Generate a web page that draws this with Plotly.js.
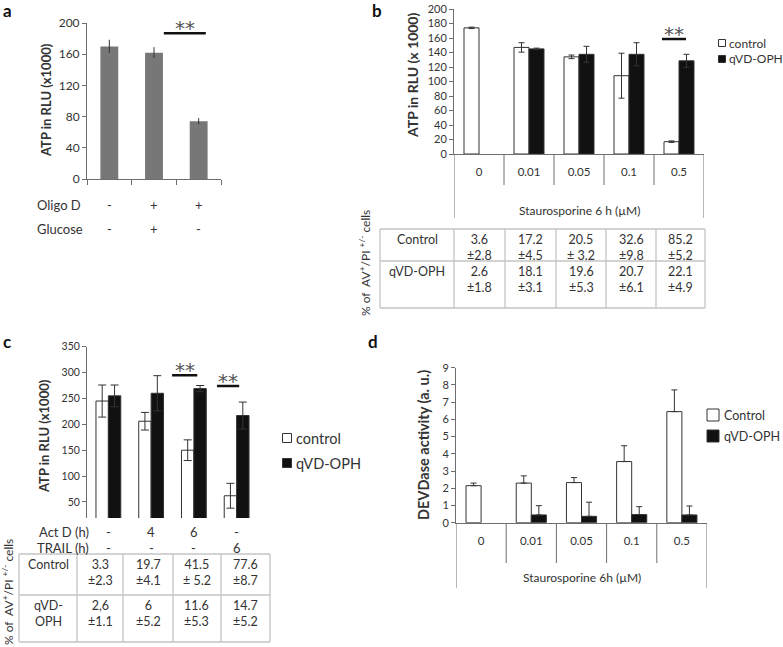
<!DOCTYPE html>
<html>
<head>
<meta charset="utf-8">
<script src="https://cdn.plot.ly/plotly-3.0.1.min.js"></script>
<style>
  body { margin: 0; background: #fff; }
  #fig { width: 783px; height: 647px; }
</style>
</head>
<body>
<div id="fig"></div>
<script>
// ---- panel a: ATP after oligomycin D +/- glucose
var aCats = ['ctrl', 'oligoGlc', 'oligo'];
var aOligo = ['-', '+', '+'];
var aGlucose = ['-', '+', '-'];
var aATP = [170, 162, 74];
var aErr = [8.5, 7, 4];

// ---- panel b: ATP after staurosporine
var bCats = ['0', '0.01', '0.05', '0.1', '0.5'];
var bControl = [174, 147, 134, 108, 17];
var bControlErr = [1, 6.5, 2.5, 31, 1];
var bQvd = [null, 145, 137.5, 137.5, 128.5];
var bQvdErr = [0, 1, 11, 16, 9];
var bPctCtrlMean = ['3.6', '17.2', '20.5', '32.6', '85.2'];
var bPctCtrlSd = ['±2.8', '±4.5', '± 3.2', '±9.8', '±5.2'];
var bPctQvdMean = ['2.6', '18.1', '19.6', '20.7', '22.1'];
var bPctQvdSd = ['±1.8', '±3.1', '±5.3', '±6.1', '±4.9'];

// ---- panel c: ATP after Act D / TRAIL
var cCats = ['none', 'actD4', 'actD6', 'trail6'];
var cActD = ['-', '4', '6', '-'];
var cTrail = ['-', '-', '-', '6'];
var cControl = [245, 206, 150, 62];
var cControlErr = [31, 17, 20, 24];
var cQvd = [255, 260, 269, 217];
var cQvdErr = [21, 34, 6, 26];
var cPctCtrlMean = ['3.3', '19.7', '41.5', '77.6'];
var cPctCtrlSd = ['±2.3', '±4.1', '± 5.2', '±8.7'];
var cPctQvdMean = ['2,6', '6', '11.6', '14.7'];
var cPctQvdSd = ['±1.1', '±5.2', '±5.3', '±5.2'];

// ---- panel d: DEVDase activity
var dCats = ['0', '0.01', '0.05', '0.1', '0.5'];
var dControl = [2.15, 2.3, 2.33, 3.55, 6.45];
var dControlErr = [0.15, 0.42, 0.29, 0.92, 1.26];
var dQvd = [null, 0.45, 0.37, 0.47, 0.45];
var dQvdErr = [0, 0.54, 0.82, 0.46, 0.52];

var W = 783, H = 647;
function fx(p) { return p / W; }
function fy(p) { return 1 - p / H; }

var FONT = 'Lato, "Noto Sans", sans-serif';
var txt = '#333333';
var axisCol = '#6e6e6e';
var gridCol = '#c4c4c4';

function bar(x, y, err, xa, ya, width, offset, fill, name, cap, upOnly) {
    var eb = { type: 'data', array: err, color: '#333', thickness: 1, width: cap };
    if (upOnly) {
        eb.symmetric = false;
        eb.arrayminus = err.map(function () { return 0; });
    }
    return {
        type: 'bar', x: x, y: y, xaxis: xa, yaxis: ya,
        width: width, offset: offset, name: name,
        marker: { color: fill, line: { color: '#333', width: fill === '#777777' ? 0 : 1 } },
        error_y: eb, showlegend: false
    };
}

var traces = [
    bar(aCats, aATP, aErr, 'x', 'y', 0.4, -0.2, '#777777', 'ATP', 0, false),
    bar(bCats, bControl, bControlErr, 'x2', 'y2', 0.3, -0.3, '#ffffff', 'control', 3, false),
    bar(bCats, bQvd, bQvdErr, 'x2', 'y2', 0.3, 0, '#111111', 'qVD-OPH', 3, false),
    bar(cCats, cControl, cControlErr, 'x3', 'y3', 0.29, -0.29, '#ffffff', 'control', 4, false),
    bar(cCats, cQvd, cQvdErr, 'x3', 'y3', 0.29, 0, '#111111', 'qVD-OPH', 4, false),
    bar(dCats, dControl, dControlErr, 'x4', 'y4', 0.3, -0.3, '#ffffff', 'Control', 3, true),
    bar(dCats, dQvd, dQvdErr, 'x4', 'y4', 0.3, 0, '#111111', 'qVD-OPH', 3, true)
];

function yax(dom, range, dtick, anchor, size) {
    return {
        domain: dom, range: range, dtick: dtick, tick0: 0, anchor: anchor,
        showline: true, linecolor: axisCol, linewidth: 1,
        ticks: 'outside', ticklen: 4, tickcolor: axisCol,
        showgrid: false, zeroline: false,
        tickfont: { size: size, color: txt }
    };
}

var annotations = [];
var shapes = [];

function note(text, x, y, opts) {
    var a = {
        text: text, x: x, y: y, xref: 'paper', yref: 'paper',
        xanchor: 'center', yanchor: 'middle',
        showarrow: false, font: { size: 12, color: txt }
    };
    for (var k in opts) a[k] = opts[k];
    annotations.push(a);
}
function line(x0, y0, x1, y1, color, width, xref, yref) {
    shapes.push({
        type: 'line', x0: x0, y0: y0, x1: x1, y1: y1,
        xref: xref || 'paper', yref: yref || 'paper',
        line: { color: color, width: width }
    });
}

// legend keys drawn by hand: the original text runs to the right edge
function legendKey(trace, cx, cy, size, textX, fontSize) {
    shapes.push({
        type: 'rect', xref: 'paper', yref: 'paper',
        x0: fx(cx - size / 2), x1: fx(cx + size / 2),
        y0: fy(cy + size / 2), y1: fy(cy - size / 2),
        fillcolor: trace.marker.color, line: { color: '#333', width: 1 }
    });
    note(trace.name, fx(textX), fy(cy), { xanchor: 'left', font: { size: fontSize, color: txt } });
}
legendKey(traces[1], 722, 43, 7, 727, 12);
legendKey(traces[2], 722, 59, 7, 727, 12);
legendKey(traces[3], 287, 438, 9, 294, 14.5);
legendKey(traces[4], 287, 463, 9, 294, 14.5);
legendKey(traces[5], 713, 415, 12, 722, 12.5);
legendKey(traces[6], 713, 436, 12, 722, 12.5);

// panel letters
[['a', 1, 11], ['b', 370, 11], ['c', 1, 341], ['d', 366, 341]].forEach(function (p) {
    note('<b>' + p[0] + '</b>', fx(p[1]), fy(p[2]),
        { xanchor: 'left', font: { size: 17, color: '#111' } });
});

// y titles
note('<b>ATP in RLU (x1000)</b>', fx(46), fy(100), { textangle: -90, font: { size: 13, color: txt } });
note('<b>ATP in RLU (x 1000)</b>', fx(413), fy(76), { textangle: -90, font: { size: 14, color: txt } });
note('<b>ATP in RLU (x1000)</b>', fx(44), fy(436), { textangle: -90, font: { size: 13, color: txt } });
note('<b>DEVDase activity (a. u.)</b>', fx(423), fy(445), { textangle: -90, font: { size: 14.5, color: txt } });

// panel a condition rows
note('Oligo D', fx(35), fy(205), { xanchor: 'left', font: { size: 13, color: txt } });
note('Glucose', fx(35), fy(229), { xanchor: 'left', font: { size: 13, color: txt } });
aCats.forEach(function (c, i) {
    note(aOligo[i], i, fy(205), { xref: 'x', font: { size: 13, color: txt } });
    note(aGlucose[i], i, fy(229), { xref: 'x', font: { size: 13, color: txt } });
});

// panel c condition rows
note('Act D (h)', fx(91), fy(532), { xanchor: 'right', font: { size: 13, color: txt } });
note('TRAIL (h)', fx(91), fy(548), { xanchor: 'right', font: { size: 13, color: txt } });
cCats.forEach(function (c, i) {
    note(cActD[i], i, fy(532), { xref: 'x3', font: { size: 13, color: txt } });
    note(cTrail[i], i, fy(548), { xref: 'x3', font: { size: 13, color: txt } });
});

// category separators under the x axis (b and d)
function separators(n, xref, yAxisPx, innerPx, outerPx) {
    for (var k = 0; k <= n; k++) {
        var outer = (k === 0 || k === n);
        line(k - 0.5, fy(yAxisPx), k - 0.5, fy(outer ? outerPx : innerPx), axisCol, 1, xref, 'paper');
    }
}
separators(bCats.length, 'x2', 154, 185, 218);
separators(dCats.length, 'x4', 523, 563, 588);
note('Staurosporine 6 h (µM)', 2, fy(210), { xref: 'x2', font: { size: 12, color: txt } });
note('Staurosporine 6h (µM)', 2, fy(577), { xref: 'x4', font: { size: 12, color: txt } });

// tables of % AV+/PI+/- cells
function table(cols, rows, labels, means, sds) {
    rows.forEach(function (r) { line(fx(cols[0]), fy(r), fx(cols[cols.length - 1]), fy(r), gridCol, 1.3); });
    cols.forEach(function (c) { line(fx(c), fy(rows[0]), fx(c), fy(rows[rows.length - 1]), gridCol, 1.3); });
    labels.forEach(function (lab, r) {
        var top = rows[r] + 1;
        note(lab, fx((cols[0] + cols[1]) / 2), fy(top), { yanchor: 'top', font: { size: 12.5, color: txt } });
        means[r].forEach(function (m, i) {
            note(m + '<br>' + sds[r][i], fx((cols[i + 1] + cols[i + 2]) / 2), fy(top),
                { yanchor: 'top', font: { size: 12.5, color: txt } });
        });
    });
}
table([380, 454, 505, 556, 606, 656, 705], [229, 261, 308], ['Control', 'qVD-OPH'],
    [bPctCtrlMean, bPctQvdMean], [bPctCtrlSd, bPctQvdSd]);
table([19, 77, 123, 173, 221, 270], [554, 595, 642], ['Control', 'qVD-<br>OPH'],
    [cPctCtrlMean, cPctQvdMean], [cPctCtrlSd, cPctQvdSd]);

var pctLabel = '% of  AV<sup>+</sup>/PI <sup>+/-</sup> cells';
note(pctLabel, fx(365), fy(263), { textangle: -90, font: { size: 12, color: txt } });
note(pctLabel, fx(8), fy(592), { textangle: -90, font: { size: 12, color: txt } });

// significance brackets
function stars(xref, yref, x0, x1, y) {
    line(x0, y, x1, y, '#111', 2.5, xref, yref);
    note('**', (x0 + x1) / 2, y, { xref: xref, yref: yref, yanchor: 'bottom', yshift: -9,
        font: { size: 20, color: '#555', family: 'DejaVu Sans' } });
}
stars('x', 'y', 1.22, 2.16, 187);
stars('x2', 'y2', 3.66, 4.14, 158.6);
stars('x3', 'y3', 1.49, 2.08, 295);
stars('x3', 'y3', 2.54, 3.06, 274);

var layout = {
    width: W, height: H,
    margin: { l: 0, r: 0, t: 0, b: 0 },
    paper_bgcolor: '#fff', plot_bgcolor: 'rgba(0,0,0,0)',
    font: { family: FONT, color: txt },
    barmode: 'group',
    showlegend: false,
    xaxis: {
        domain: [fx(87), fx(221)], range: [-0.5, 2.5], anchor: 'y', type: 'category',
        showline: true, linecolor: axisCol, ticks: 'outside', tickson: 'boundaries',
        ticklen: 5, tickcolor: axisCol, showticklabels: false, showgrid: false, zeroline: false
    },
    yaxis: yax([fy(179), fy(23)], [0, 200], 40, 'x', 12),
    xaxis2: {
        domain: [fx(454), fx(704)], range: [-0.5, 4.5], anchor: 'y2', type: 'category',
        showline: true, linecolor: axisCol, ticks: '', showgrid: false, zeroline: false,
        tickfont: { size: 11.5, color: txt }, ticklabelstandoff: 7
    },
    yaxis2: yax([fy(154), fy(9)], [0, 200], 20, 'x2', 11),
    xaxis3: {
        domain: [fx(87), fx(258)], range: [-0.5, 3.5], anchor: 'y3', type: 'category',
        showline: false, ticks: '', showticklabels: false, showgrid: false, zeroline: false
    },
    yaxis3: yax([fy(518), fy(346.7)], [19, 350], 50, 'x3', 10.5),
    xaxis4: {
        domain: [fx(456), fx(707)], range: [-0.5, 4.5], anchor: 'y4', type: 'category',
        showline: true, linecolor: axisCol, ticks: '', showgrid: false, zeroline: false,
        tickfont: { size: 11.5, color: txt }, ticklabelstandoff: 7
    },
    yaxis4: yax([fy(522.7), fy(367.7)], [0, 9], 1, 'x4', 11),
    shapes: shapes,
    annotations: annotations
};

Plotly.newPlot('fig', traces, layout, { displayModeBar: false, staticPlot: true });
</script>
</body>
</html>
